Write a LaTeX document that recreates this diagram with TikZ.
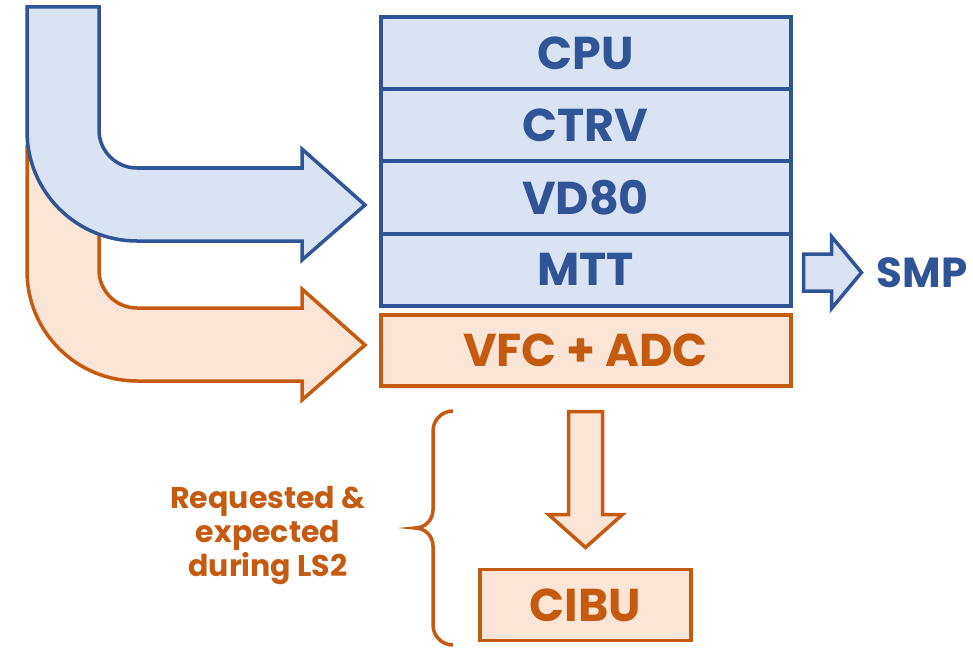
\documentclass[tikz,border=0pt]{standalone}
\usepackage{fontspec}
\setmainfont{Poppins}
\definecolor{blue1}{RGB}{47, 85, 151}
\definecolor{blue1fill}{RGB}{218, 227, 243}
\definecolor{orange1}{RGB}{197, 90, 17}
\definecolor{orange1fill}{RGB}{251, 229, 214}
\usepackage{tikz}
\usetikzlibrary{positioning, calc}

\tikzset{
  stackbox/.style={draw=blue1, fill=blue1fill, line width=4pt, minimum width=410pt, minimum height=72pt,
    outer sep=0pt, inner sep=0pt, text=blue1, font=\fontsize{46}{50}\selectfont\bfseries},
  extbox/.style={stackbox, draw=orange1, fill=orange1fill, text=orange1},
  bluearrow/.style={draw=blue1, fill=blue1fill, line width=3.5pt},
  orangearrow/.style={draw=orange1, fill=orange1fill, line width=3.5pt},
  bentarrow/.pic={
    \path[pic actions] (27,7) -- (99,7) -- (99,130) arc[start angle=180, end angle=90, radius=38]
      -- (302,168) -- (302,149) -- (365,205) -- (302,260) -- (302,241) -- (137,241)
      arc[start angle=90, end angle=180, radius=110] -- cycle;
  }
}

\begin{document}
\begin{tikzpicture}[x=1pt, y=-1pt]
  \useasboundingbox (0,0) rectangle (973,647);

  % feeds into the stack
  \pic[orangearrow] at (0,140) {bentarrow};
  \pic[bluearrow] at (0,0) {bentarrow};

  % the stack
  \node[stackbox] (cpu) at (585.5,53.5) {CPU};
  \node[stackbox, below=0pt of cpu] (ctrv) {CTRV};
  \node[stackbox, below=0pt of ctrv] (vd80) {VD80};
  \node[stackbox, below=0pt of vd80] (mtt) {MTT};
  \node[extbox, below=9pt of mtt, minimum height=71pt] (vfc) {VFC + ADC};

  % output to SMP
  \coordinate (sa) at ($(mtt.east)+(13,3)$);
  \path[bluearrow] (sa) +(0,-18.5) -- +(28,-18.5) -- +(28,-36) -- +(58,0) -- +(28,36) -- +(28,18.5)
    -- +(0,18.5) -- cycle;
  \node[anchor=west, inner sep=0pt, text=blue1, font=\fontsize{42}{46}\selectfont\bfseries] (smp)
    at ($(sa)+(73,0)$) {SMP};

  % down to CIBU
  \node[extbox, below=184pt of vfc, minimum width=211pt, minimum height=71pt, line width=3.5pt] (cibu) {CIBU};
  \coordinate (dtop) at ($(vfc.south)+(0,26)$);
  \path[orangearrow] (dtop) +(-17,0) -- +(-17,103) -- +(-37,103) -- +(0,136) -- +(37,103) -- +(17,103)
    -- +(17,0) -- cycle;

  % brace and note
  \draw[orange1, line width=3.5pt] (453,411) arc[start angle=270, end angle=180, radius=20] -- (433,510)
    arc[start angle=0, end angle=90, radius=18] arc[start angle=270, end angle=360, radius=18]
    -- (433,625) arc[start angle=180, end angle=90, radius=20];
  \node[text=orange1, align=center, font=\fontsize{30}{34}\selectfont\bfseries] (note) at (268,536)
    {Requested \&\\expected\\during LS2};
\end{tikzpicture}
\end{document}
